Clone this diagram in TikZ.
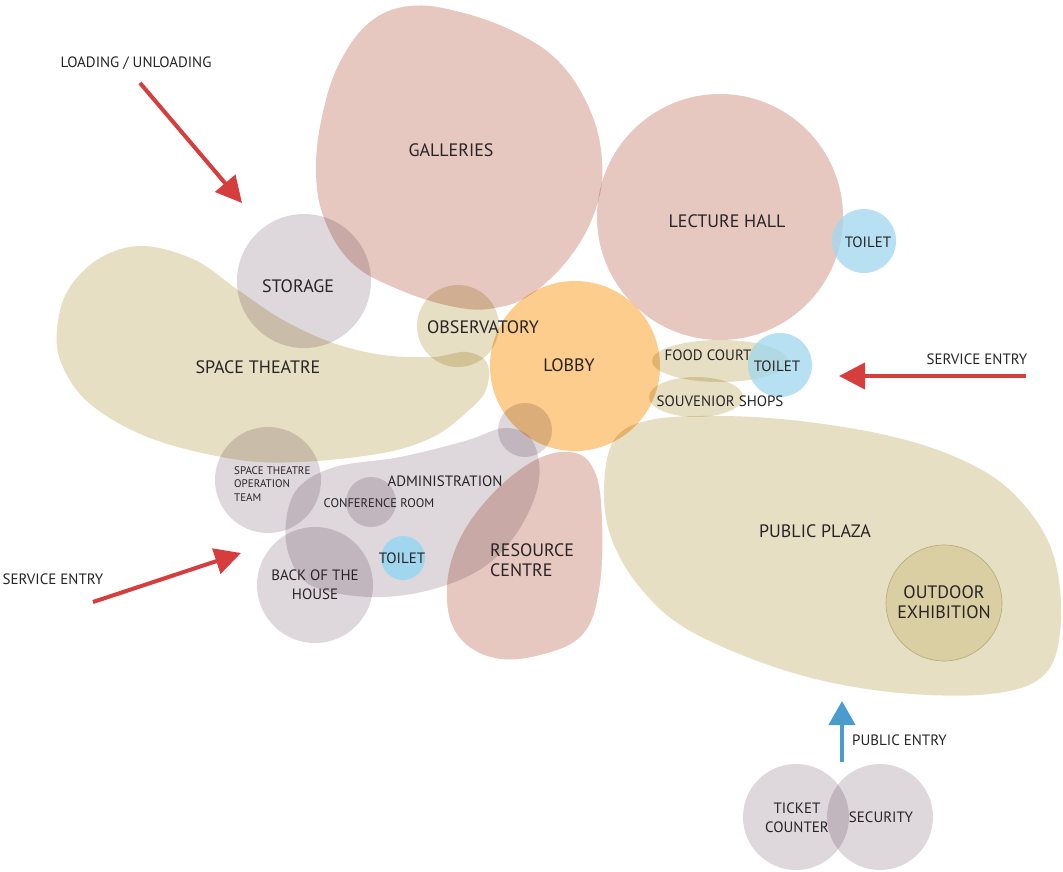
\documentclass[tikz,border=0pt]{standalone}
\usepackage{fontspec}
\setmainfont{PT Sans}
\usetikzlibrary{arrows.meta}
\definecolor{pinkzone}{RGB}{230,200,192}
\definecolor{beigezone}{RGB}{231,223,195}
\definecolor{greyzone}{RGB}{222,216,220}
\definecolor{orangezone}{RGB}{252,205,140}
\definecolor{bluezone}{RGB}{160,215,238}
\definecolor{exhib}{RGB}{218,207,162}
\definecolor{exhibedge}{RGB}{180,168,120}
\definecolor{redarrow}{RGB}{214,62,62}
\definecolor{bluearrow}{RGB}{74,156,204}
\definecolor{ink}{RGB}{40,36,38}
\tikzset{
  zone/.style={blend mode=multiply},
  pinkfill/.style={zone, fill=pinkzone},
  beigefill/.style={zone, fill=beigezone},
  greyfill/.style={zone, fill=greyzone},
  bluefill/.style={fill=bluezone, fill opacity=0.75},
  lbl/.style={text=ink, inner sep=0pt, align=center},
  big/.style={lbl, font=\fontsize{18}{20}\selectfont},
  mid/.style={lbl, font=\fontsize{15}{19}\selectfont},
  small/.style={lbl, font=\fontsize{12.5}{14}\selectfont},
  tiny/.style={lbl, font=\fontsize{11}{13.5}\selectfont, align=left},
  redflow/.style={draw=redarrow, line width=4pt, -{Triangle[length=26pt,width=26pt]}},
  blueflow/.style={draw=bluearrow, line width=4.5pt, -{Triangle[length=24pt,width=26pt]}},
}
\begin{document}
\begin{tikzpicture}[x=1pt,y=-1pt]
\useasboundingbox[fill=white] (0,0) rectangle (1063,872);

% ---- program zones ----
% galleries
\fill[pinkfill] plot[smooth cycle, tension=0.65] coordinates {
  (316,168) (323,112) (340,62) (370,22) (410,6) (460,12) (517,33) (560,63)
  (590,110) (602,160) (597,205) (573,253) (533,293) (495,308) (455,307)
  (400,290) (352,263) (324,218)};
% lecture hall
\fill[pinkfill] (720,217) circle[radius=123];
% resource centre
\fill[pinkfill] plot[smooth cycle, tension=0.65] coordinates {
  (570,452) (594,470) (602,520) (599,590) (582,635) (540,655) (495,658)
  (460,638) (447,600) (455,550) (485,502) (530,463)};
% space theatre
\fill[beigefill] plot[smooth cycle, tension=0.6] coordinates {
  (57,330) (68,290) (100,258) (143,246) (195,260) (238,290) (283,320)
  (333,343) (383,355) (433,357) (466,352) (487,363) (486,390) (467,412)
  (433,437) (383,453) (300,462) (233,459) (150,438) (90,404) (62,365)};
% public plaza
\fill[beigefill] plot[smooth cycle, tension=0.6] coordinates {
  (650,420) (614,440) (604,490) (612,540) (642,590) (692,632) (790,672)
  (890,692) (990,694) (1045,674) (1061,620) (1051,548) (1012,492)
  (960,459) (890,436) (800,421) (720,416)};
% observatory, food court, souvenir shops
\fill[beigefill] (458,326) circle[radius=41];
\fill[beigefill] (720,361) ellipse[x radius=68, y radius=21];
\fill[beigefill] (696,397) ellipse[x radius=47, y radius=20];
% lobby
\fill[zone, fill=orangezone] (575,366) circle[radius=85];
% administration
\fill[greyfill] plot[smooth cycle, tension=0.6] coordinates {
  (286,522) (298,488) (335,467) (400,457) (465,441) (505,428) (532,440)
  (539,480) (520,528) (484,567) (430,590) (370,597) (312,586) (290,558)};
% grey rooms
\fill[greyfill] (304,281) circle[radius=67];
\fill[greyfill] (525,430) circle[radius=27];
\fill[greyfill] (268,480) circle[radius=53];
\fill[greyfill] (315,585) circle[radius=58];
\fill[greyfill] (371,502) circle[radius=25];
\fill[greyfill] (796,817) circle[radius=53];
\fill[greyfill] (880,817) circle[radius=53];
% toilets
\fill[bluefill] (864,241) circle[radius=32];
\fill[bluefill] (780,365) circle[radius=32];
\fill[bluefill, fill opacity=1] (403,558) circle[radius=22];
% outdoor exhibition
\fill[fill=exhib, draw=exhibedge, line width=0.6pt] (944,603) circle[radius=58];

% ---- labels ----
\node[big] (galleries) at (451,150) {GALLERIES};
\node[big] (lecture) at (727,221) {LECTURE HALL};
\node[mid] (toiletA) at (868,242) {TOILET};
\node[big] (storage) at (298,286) {STORAGE};
\node[big] (observatory) at (483,327) {OBSERVATORY};
\node[big] (theatre) at (258,367) {SPACE THEATRE};
\node[big] (lobby) at (569,365) {LOBBY};
\node[mid] (food) at (708,355) {FOOD COURT};
\node[mid] (toiletB) at (777,366) {TOILET};
\node[mid] (shops) at (720,401) {SOUVENIOR SHOPS};
\node[tiny, anchor=west] (opteam) at (234,484) {SPACE THEATRE\\OPERATION\\TEAM};
\node[mid] (admin) at (445,481) {ADMINISTRATION};
\node[small] (conference) at (379,503) {CONFERENCE ROOM};
\node[mid] (toiletC) at (402,558) {TOILET};
\node[mid] (backhouse) at (315,585) {BACK OF THE\\HOUSE};
\node[big, align=left, anchor=west] (resource) at (490,560) {RESOURCE\\CENTRE};
\node[big] (plaza) at (815,531) {PUBLIC PLAZA};
\node[big] (outdoor) at (944,602) {OUTDOOR\\EXHIBITION};
\node[mid] (ticket) at (797,818) {TICKET\\COUNTER};
\node[mid] (security) at (881,817) {SECURITY};

% ---- entries ----
\node[mid] (loadlbl) at (136,63) {LOADING / UNLOADING};
\coordinate (loadA) at (140,83);
\coordinate (loadB) at (242,203);
\draw[redflow] (loadA) -- (loadB);

\node[mid] (serviceR) at (977,359) {SERVICE ENTRY};
\coordinate (servRA) at (1026,376);
\coordinate (servRB) at (839,376);
\draw[redflow] (servRA) -- (servRB);

\node[mid] (serviceL) at (53,579) {SERVICE ENTRY};
\coordinate (servLA) at (93,602);
\coordinate (servLB) at (241,553);
\draw[redflow] (servLA) -- (servLB);

\node[mid, anchor=west] (publiclbl) at (852,740) {PUBLIC ENTRY};
\coordinate (pubA) at (842,762);
\coordinate (pubB) at (842,701);
\draw[blueflow] (pubA) -- (pubB);
\end{tikzpicture}
\end{document}
